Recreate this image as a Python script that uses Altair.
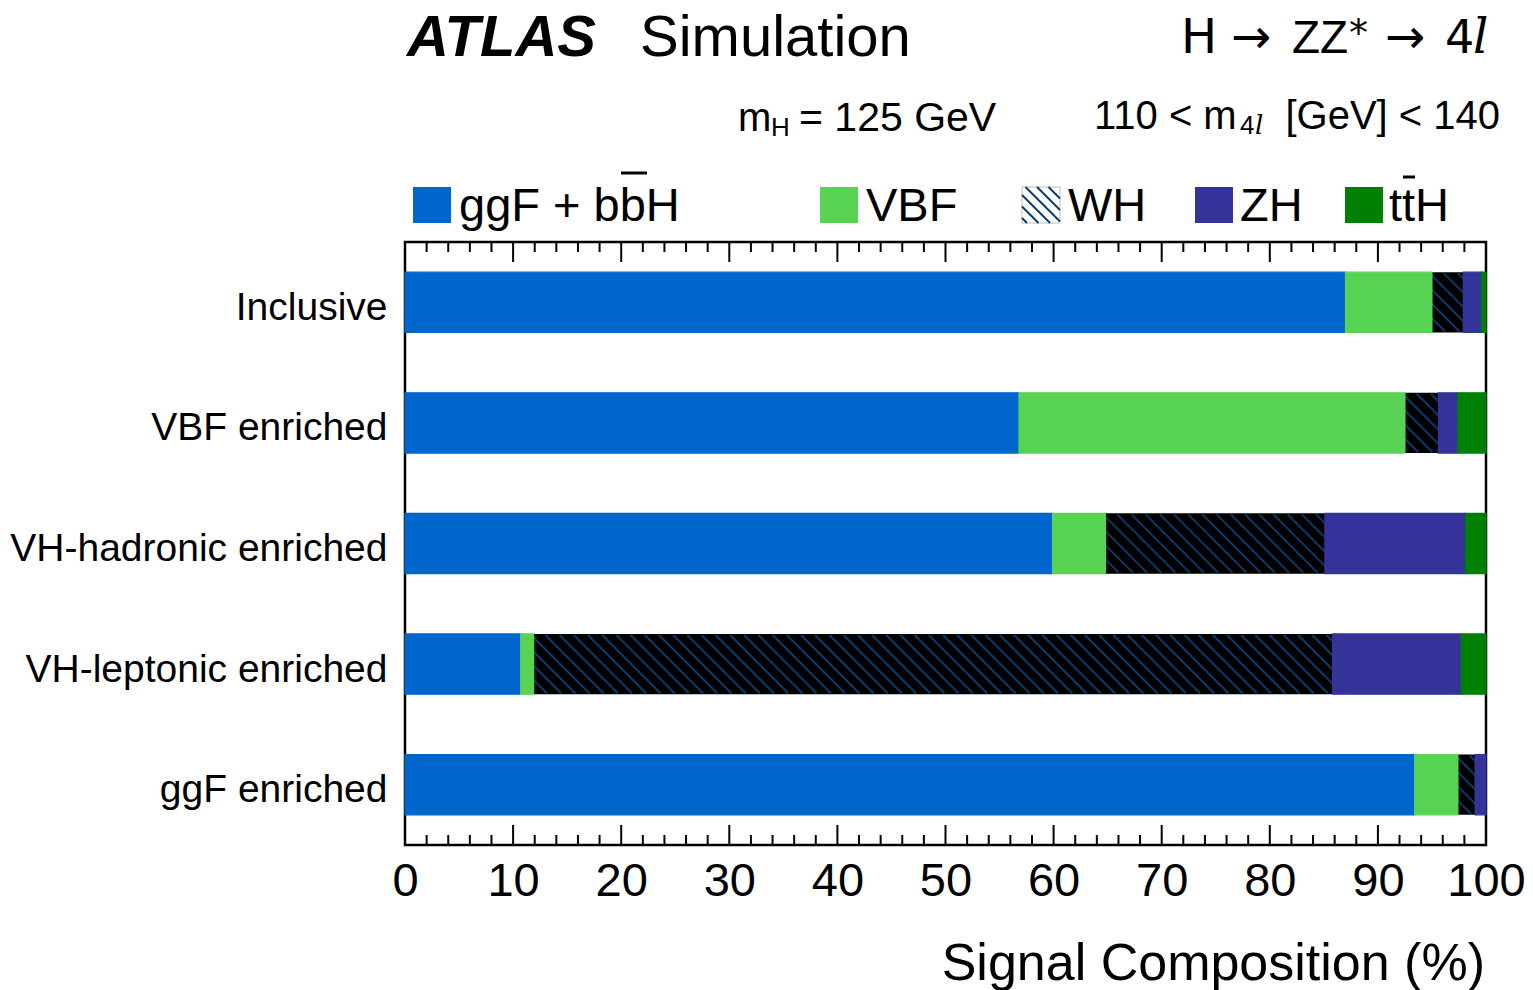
import json
import altair as alt
import pandas as pd

# ---------------- data ----------------
categories = ["Inclusive", "VBF enriched", "VH-hadronic enriched",
              "VH-leptonic enriched", "ggF enriched"]
processes = ["ggF + bbH", "VBF", "WH", "ZH", "ttH"]
ggf = [87.0, 56.8, 59.9, 10.7, 93.4]
vbf = [8.0, 35.7, 4.9, 1.2, 4.0]
wh = [2.9, 3.1, 20.3, 73.9, 1.6]
zh = [1.7, 1.8, 13.0, 11.9, 1.0]
tth = [0.4, 2.6, 1.9, 2.3, 0.0]
series = [ggf, vbf, wh, zh, tth]
colors = ["#0066CC", "#59D354", "#000000", "#333399", "#008000"]
legend_labels = ["ggF + bbH", "VBF", "WH", "ZH", "ttH"]
major_ticks = list(range(0, 101, 10))
minor_ticks = [v for v in range(0, 101, 2) if v % 10]

# ---------------- layout ----------------
W, H = 1081, 603
OX, OY = 405, 242          # page position of plot origin
HATCH = "#0B3A6B"
FONT = "Liberation Sans"
HALF = 0.25                # half bar thickness (in category units)


def px(x):
    return x - OX


def py(y):
    return y - OY


rows = []
for i, cat in enumerate(categories):
    s = 0.0
    for p, vals in zip(processes, series):
        v = vals[i]
        rows.append(dict(cat=cat, idx=i, proc=p, x0=s, x1=s + v,
                         ytop=i - HALF, ybot=i + HALF))
        s += v
df = pd.DataFrame(rows)

# hatch lines for WH segments (45 deg in pixel space), shortened 1px each end
ppu = W / 100.0            # pixels per x unit
ppc = H / 5.0              # pixels per category unit
bar_px = 2 * HALF * ppc
dx = bar_px / ppu
period = 14.2 / ppu
ex, ey = 1.0 / ppu, 1.0 / ppc
hrows = []
for r in df[df.proc == "WH"].itertuples():
    x = r.x0 - dx
    while x < r.x1:
        hrows.append(dict(h0=x + ex, h1=x + dx - ex,
                          ytop=r.ytop + ey, ybot=r.ybot - ey))
        x += period
hdf = pd.DataFrame(hrows)

xscale = alt.Scale(domain=[0, 100], nice=False, zero=False)
yscale = alt.Scale(domain=[-0.5, 4.5], reverse=True, nice=False, zero=False)

xaxis = alt.Axis(values=major_ticks, grid=False, domain=False, ticks=False,
                 labelFontSize=47, labelBaseline="alphabetic", labelPadding=50,
                 labelFlush=False, title=None, labelFont=FONT,
                 labelColor="black", format="d")
yaxis = alt.Axis(values=[0, 1, 2, 3, 4], grid=False, domain=False, ticks=False,
                 labelExpr=f"{json.dumps(categories)}[datum.value]",
                 labelFontSize=39, labelBaseline="alphabetic", labelOffset=17,
                 labelPadding=18, labelFlush=False, labelLimit=0, title=None,
                 labelFont=FONT, labelColor="black")

X = lambda f: alt.X(f, type="quantitative", scale=xscale, axis=xaxis)
Y = lambda f: alt.Y(f, type="quantitative", scale=yscale, axis=yaxis)

wh_bars = alt.Chart(df[df.proc == "WH"]).mark_bar(color="black").encode(
    x=X("x0"), x2="x1", y=Y("ytop"), y2="ybot")

hatch = alt.Chart(hdf).mark_rule(color=HATCH, strokeWidth=2, clip=True).encode(
    x=X("h0"), x2="h1", y=Y("ytop"), y2="ybot")

pscale = alt.Scale(domain=processes, range=colors)
other_bars = alt.Chart(df[(df.proc != "WH") & (df.x1 > df.x0)]).mark_bar(
    strokeWidth=1.2).encode(
    x=X("x0"), x2="x1", y=Y("ytop"), y2="ybot",
    color=alt.Color("proc:N", scale=pscale, legend=None),
    stroke=alt.Stroke("proc:N", scale=pscale, legend=None))

layers = [wh_bars, hatch, other_bars]

# axis ticks (inside, top and bottom)
for vals, ln in [(major_ticks, 20), (minor_ticks, 10)]:
    tdf = pd.DataFrame({"v": vals})
    layers.append(alt.Chart(tdf).mark_rule(color="black", strokeWidth=2).encode(
        x=X("v"), y=alt.value(H), y2=alt.value(H - ln)))
    layers.append(alt.Chart(tdf).mark_rule(color="black", strokeWidth=2).encode(
        x=X("v"), y=alt.value(0), y2=alt.value(ln)))

ONE = alt.Data(values=[{}])


def txt(s, x, y, size, align="left", weight="normal", style="normal", font=FONT):
    return alt.Chart(ONE).mark_text(
        text=s, align=align, baseline="alphabetic", fontSize=size,
        fontWeight=weight, fontStyle=style, font=font, color="black"
    ).encode(x=alt.value(px(x)), y=alt.value(py(y)))


def rule(x1, y1, x2, y2, color="black", w=2):
    return alt.Chart(ONE).mark_rule(color=color, strokeWidth=w).encode(
        x=alt.value(px(x1)), y=alt.value(py(y1)),
        x2=alt.value(px(x2)), y2=alt.value(py(y2)))


# titles
layers += [
    txt("ATLAS", 407, 56, 58, weight="bold", style="italic"),
    txt("Simulation", 640, 56, 58),
    txt("H", 1181, 53, 48, font="DejaVu Sans"),
    txt("\u2192", 1231, 53, 48, font="DejaVu Sans"),
    txt("ZZ", 1292, 53, 46),
    txt("*", 1349, 46, 38, font="DejaVu Sans"),
    txt("\u2192", 1385, 53, 48, font="DejaVu Sans"),
    txt("4", 1445, 53, 46, font="DejaVu Sans"),
    txt("l", 1473, 53, 48, style="italic", font="DejaVu Serif"),
    txt("m", 738, 131, 40),
    txt("H", 771, 136, 26),
    txt("= 125 GeV", 799, 131, 41),
    txt("110 < m", 1094, 129, 40),
    txt("4", 1240, 134, 26),
    txt("l", 1255, 134, 26, style="italic", font="DejaVu Serif"),
    txt("[GeV] < 140", 1500, 129, 40, align="right"),
    txt("Signal Composition (%)", 1485, 980, 52, align="right"),
]

# legend
box_x = [413, 820, 1022, 1195, 1345]
lab_x = [459, 866, 1068, 1240, 1389]
BY0, BY1, BW = 187, 223, 38
for i, (lab, col) in enumerate(zip(legend_labels, colors)):
    bx = box_x[i]
    if processes[i] == "WH":
        layers.append(alt.Chart(ONE).mark_rect(fill="white", stroke="#BBBBBB", strokeWidth=1).encode(
            x=alt.value(px(bx)), x2=alt.value(px(bx + BW)),
            y=alt.value(py(BY0)), y2=alt.value(py(BY1))))
        h = BY1 - BY0
        s = 11.5
        c = -h + 5
        while c < BW:
            v0 = max(0, -c)
            v1 = min(h, BW - c)
            if v1 > v0:
                layers.append(rule(bx + v0 + c, BY0 + v0, bx + v1 + c, BY0 + v1, HATCH, 2))
            c += s
    else:
        layers.append(alt.Chart(ONE).mark_rect(fill=col).encode(
            x=alt.value(px(bx)), x2=alt.value(px(bx + BW)),
            y=alt.value(py(BY0)), y2=alt.value(py(BY1))))
    layers.append(txt(lab, lab_x[i], 221, 47))

# overlines for b-bar and t-bar
layers.append(rule(621, 173, 647, 173, "black", 3))
layers.append(rule(1403, 177, 1415, 177, "black", 3))

chart = alt.layer(*layers).properties(
    width=W, height=H,
    autosize=alt.AutoSizeParams(type="none"),
    padding={"left": OX - 8, "top": OY - 8, "right": 39, "bottom": 160},
).configure_view(stroke="black", strokeWidth=2.5)

chart.save("out.html", embed_options={"renderer": "svg", "actions": False})
